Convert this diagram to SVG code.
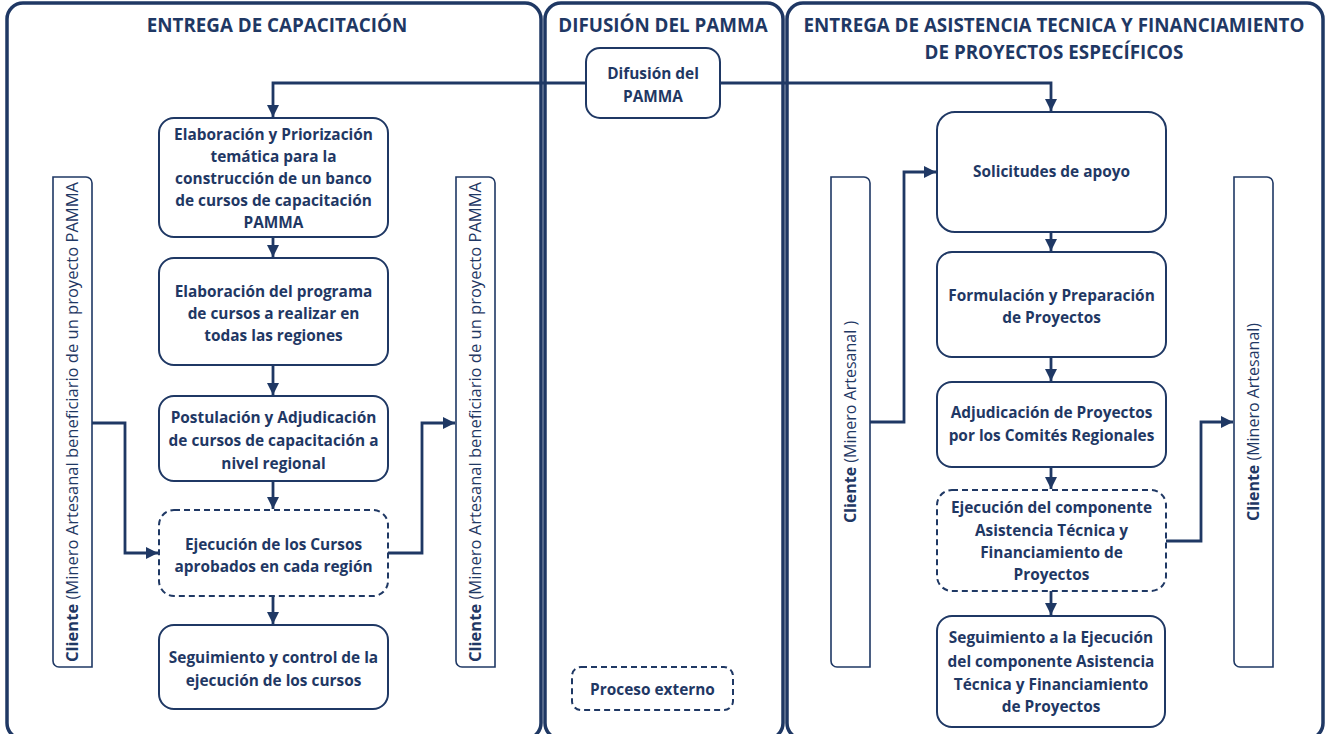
<svg xmlns="http://www.w3.org/2000/svg" width="1328" height="734" viewBox="0 0 1328 734">
<style>
.panel{fill:#fff;stroke:#1F3864;stroke-width:3.5}
.box{fill:#fff;stroke:#1F3864;stroke-width:2}
.dash{fill:#fff;stroke:#1F3864;stroke-width:2;stroke-dasharray:6 4}
.bar{fill:#fff;stroke:#1F3864;stroke-width:1.6}
.title{font-family:"Open Sans","Noto Sans","Liberation Sans",sans-serif;font-weight:bold;font-size:18.8px;fill:#1F3864;text-anchor:middle}
.t{font-family:"Open Sans","Noto Sans","Liberation Sans",sans-serif;font-weight:bold;font-size:15.4px;fill:#1F3864;text-anchor:middle}
.bt{font-family:"Open Sans","Noto Sans","Liberation Sans",sans-serif;font-size:16px;fill:#1F3864}
.b{font-weight:bold}
.conn{fill:none;stroke:#1F3864;stroke-width:2.8}
</style>
<defs>
<marker id="arr" markerUnits="userSpaceOnUse" markerWidth="12" markerHeight="12" viewBox="0 0 10 10" refX="10" refY="5" orient="auto">
<path d="M0,0 L10,5 L0,10 z" fill="#1F3864"/>
</marker>
</defs>

<g id="panels">
<rect class="panel" x="7" y="3" width="534" height="736" rx="16"/>
<rect class="panel" x="545" y="3" width="238" height="736" rx="16"/>
<rect class="panel" x="787" y="3" width="536" height="736" rx="16"/>
<text class="title" x="277" y="32">ENTREGA DE CAPACITACIÓN</text>
<text class="title" x="663" y="32">DIFUSIÓN DEL PAMMA</text>
<text class="title" x="1054" y="32">ENTREGA DE ASISTENCIA TECNICA Y FINANCIAMIENTO</text>
<text class="title" x="1054" y="59">DE PROYECTOS ESPECÍFICOS</text>
</g>

<g id="connectors">
<path class="conn" d="M586,83 H273 V117" marker-end="url(#arr)"/>
<path class="conn" d="M720,83 H1051 V111" marker-end="url(#arr)"/>
<path class="conn" d="M273,237 V257" marker-end="url(#arr)"/>
<path class="conn" d="M273,365 V395" marker-end="url(#arr)"/>
<path class="conn" d="M273,481 V509" marker-end="url(#arr)"/>
<path class="conn" d="M273,596 V624" marker-end="url(#arr)"/>
<path class="conn" d="M92,423 H125 V553 H158" marker-end="url(#arr)"/>
<path class="conn" d="M388,553 H422 V423 H455" marker-end="url(#arr)"/>
<path class="conn" d="M1051,232 V251" marker-end="url(#arr)"/>
<path class="conn" d="M1051,357 V381" marker-end="url(#arr)"/>
<path class="conn" d="M1051,467 V489" marker-end="url(#arr)"/>
<path class="conn" d="M1051,591 V615" marker-end="url(#arr)"/>
<path class="conn" d="M869,422 H904 V172 H936" marker-end="url(#arr)"/>
<path class="conn" d="M1166,541 H1201 V422 H1233" marker-end="url(#arr)"/>
</g>

<g id="difusion">
<rect class="box" x="586" y="48" width="134" height="70" rx="14"/>
<text class="t" x="653" y="79">Difusión del</text>
<text class="t" x="653" y="102">PAMMA</text>
</g>

<g id="cap1">
<rect class="box" x="159" y="118" width="229" height="119" rx="15"/>
<text class="t" x="273.5" y="140">Elaboración y Priorización</text>
<text class="t" x="273.5" y="162">temática para la</text>
<text class="t" x="273.5" y="184">construcción de un banco</text>
<text class="t" x="273.5" y="206">de cursos de capacitación</text>
<text class="t" x="273.5" y="228">PAMMA</text>
</g>

<g id="cap2">
<rect class="box" x="159" y="258" width="229" height="107" rx="15"/>
<text class="t" x="273.5" y="297">Elaboración del programa</text>
<text class="t" x="273.5" y="319">de cursos a realizar en</text>
<text class="t" x="273.5" y="341">todas las regiones</text>
</g>

<g id="cap3">
<rect class="box" x="159" y="396" width="229" height="85" rx="15"/>
<text class="t" x="273.5" y="423">Postulación y Adjudicación</text>
<text class="t" x="273.5" y="446">de cursos de capacitación a</text>
<text class="t" x="273.5" y="469">nivel regional</text>
</g>

<g id="cap4">
<rect class="dash" x="159" y="510" width="229" height="86" rx="15"/>
<text class="t" x="273.5" y="550">Ejecución de los Cursos</text>
<text class="t" x="273.5" y="572">aprobados en cada región</text>
</g>

<g id="cap5">
<rect class="box" x="159" y="625" width="229" height="84" rx="15"/>
<text class="t" x="273.5" y="663">Seguimiento y control de la</text>
<text class="t" x="273.5" y="686">ejecución de los cursos</text>
</g>

<g id="cliente-cap-left">
<path class="bar" d="M53,177 H86 A6,6 0 0 1 92,183 V667 H59 A6,6 0 0 1 53,661 Z"/>
<text class="bt" transform="translate(78,662) rotate(-90)" textLength="480" lengthAdjust="spacingAndGlyphs"><tspan class="b">Cliente</tspan> (Minero Artesanal beneficiario de un proyecto PAMMA</text>
</g>

<g id="cliente-cap-right">
<path class="bar" d="M456,177 H489 A6,6 0 0 1 495,183 V667 H462 A6,6 0 0 1 456,661 Z"/>
<text class="bt" transform="translate(481,662) rotate(-90)" textLength="480" lengthAdjust="spacingAndGlyphs"><tspan class="b">Cliente</tspan> (Minero Artesanal beneficiario de un proyecto PAMMA</text>
</g>

<g id="externo">
<rect class="dash" x="572" y="667" width="161" height="43" rx="9"/>
<text class="t" x="652.5" y="695">Proceso externo</text>
</g>

<g id="at1">
<rect class="box" x="937" y="112" width="229" height="120" rx="18"/>
<text class="t" x="1051.5" y="177">Solicitudes de apoyo</text>
</g>

<g id="at2">
<rect class="box" x="937" y="252" width="229" height="105" rx="15"/>
<text class="t" x="1051.5" y="301">Formulación y Preparación</text>
<text class="t" x="1051.5" y="323">de Proyectos</text>
</g>

<g id="at3">
<rect class="box" x="937" y="382" width="229" height="85" rx="15"/>
<text class="t" x="1051.5" y="418">Adjudicación de Proyectos</text>
<text class="t" x="1051.5" y="441">por los Comités Regionales</text>
</g>

<g id="at4">
<rect class="dash" x="937" y="490" width="229" height="101" rx="15"/>
<text class="t" x="1051.5" y="513">Ejecución del componente</text>
<text class="t" x="1051.5" y="536">Asistencia Técnica y</text>
<text class="t" x="1051.5" y="558">Financiamiento de</text>
<text class="t" x="1051.5" y="580">Proyectos</text>
</g>

<g id="at5">
<rect class="box" x="937" y="616" width="228" height="111" rx="15"/>
<text class="t" x="1051" y="643">Seguimiento a la Ejecución</text>
<text class="t" x="1051" y="667">del componente Asistencia</text>
<text class="t" x="1051" y="690">Técnica y Financiamiento</text>
<text class="t" x="1051" y="712">de Proyectos</text>
</g>

<g id="cliente-at-left">
<path class="bar" d="M831,177 H864 A6,6 0 0 1 870,183 V667 H837 A6,6 0 0 1 831,661 Z"/>
<text class="bt" text-anchor="middle" transform="translate(856,422) rotate(-90)"><tspan class="b">Cliente</tspan> (Minero Artesanal )</text>
</g>

<g id="cliente-at-right">
<path class="bar" d="M1234,177 H1267 A6,6 0 0 1 1273,183 V667 H1240 A6,6 0 0 1 1234,661 Z"/>
<text class="bt" text-anchor="middle" transform="translate(1259,422) rotate(-90)"><tspan class="b">Cliente</tspan> (Minero Artesanal)</text>
</g>
</svg>
